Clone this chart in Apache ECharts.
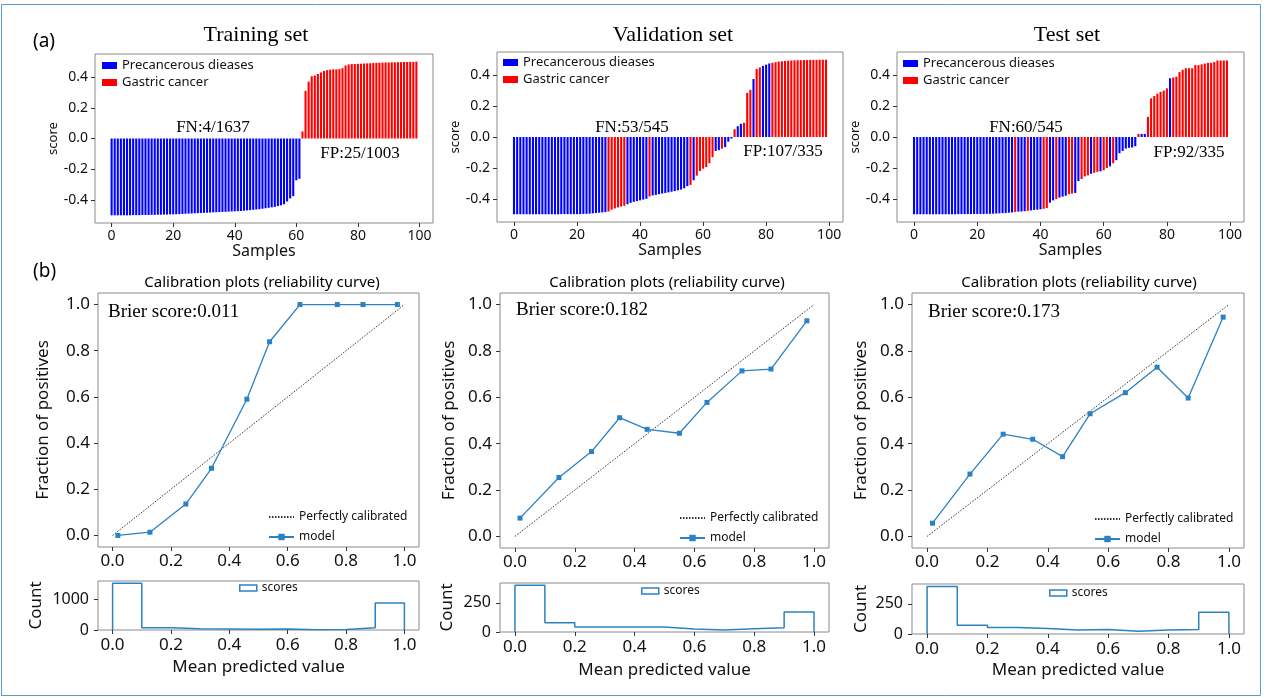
<!DOCTYPE html>
<html>
<head>
<meta charset="utf-8">
<title>Gastric cancer scores and calibration</title>
<script src="https://cdn.jsdelivr.net/npm/echarts@6/dist/echarts.min.js"></script>
<style>
  html, body { margin: 0; padding: 0; background: #fff; }
  #main { width: 1264px; height: 698px; }
</style>
</head>
<body>
<div id="main"></div>
<script>
// ---- data ----
// (a) sorted scores of 100 sampled cases, class 0 = precancerous, 1 = gastric cancer
var trainScores = [
  -0.500, -0.500, -0.500, -0.500, -0.500, -0.500, -0.500, -0.499, -0.499, -0.499,
  -0.498, -0.498, -0.498, -0.497, -0.497, -0.496, -0.496, -0.495, -0.495, -0.494,
  -0.494, -0.493, -0.492, -0.491, -0.490, -0.489, -0.488, -0.487, -0.486, -0.485,
  -0.484, -0.483, -0.482, -0.481, -0.480, -0.479, -0.478, -0.477, -0.476, -0.475,
  -0.474, -0.473, -0.472, -0.470, -0.468, -0.466, -0.464, -0.462, -0.460, -0.457,
  -0.454, -0.451, -0.448, -0.445, -0.440, -0.435, -0.428, -0.410, -0.390, -0.375,
  -0.272, -0.262, 0.046, 0.310, 0.370, 0.405, 0.410, 0.420, 0.430, 0.440,
  0.445, 0.448, 0.450, 0.450, 0.452, 0.458, 0.475, 0.482, 0.484, 0.485,
  0.486, 0.487, 0.488, 0.489, 0.490, 0.491, 0.492, 0.493, 0.494, 0.495,
  0.495, 0.496, 0.496, 0.497, 0.497, 0.498, 0.498, 0.499, 0.499, 0.500
];
var trainClass = [
  0, 0, 0, 0, 0, 0, 0, 0, 0, 0, 0, 0, 0, 0, 0, 0, 0, 0, 0, 0,
  0, 0, 0, 0, 0, 0, 0, 0, 0, 0, 0, 0, 0, 0, 0, 0, 0, 0, 0, 0,
  0, 0, 0, 0, 0, 0, 0, 0, 0, 0, 0, 0, 0, 0, 0, 0, 0, 0, 0, 0,
  0, 0, 1, 1, 1, 1, 1, 1, 1, 1, 1, 1, 1, 1, 1, 1, 1, 1, 1, 1,
  1, 1, 1, 1, 1, 1, 1, 1, 1, 1, 1, 1, 1, 1, 1, 1, 1, 1, 1, 1
];
var validScores = [
  -0.500, -0.500, -0.500, -0.500, -0.500, -0.500, -0.500, -0.500, -0.500, -0.500,
  -0.500, -0.500, -0.500, -0.500, -0.500, -0.499, -0.499, -0.499, -0.499, -0.499,
  -0.499, -0.499, -0.498, -0.497, -0.496, -0.494, -0.492, -0.490, -0.488, -0.486,
  -0.482, -0.470, -0.462, -0.456, -0.450, -0.445, -0.435, -0.426, -0.420, -0.415,
  -0.410, -0.405, -0.400, -0.385, -0.378, -0.375, -0.370, -0.366, -0.362, -0.358,
  -0.354, -0.350, -0.345, -0.340, -0.332, -0.318, -0.310, -0.280, -0.250, -0.220,
  -0.205, -0.195, -0.170, -0.130, -0.090, -0.085, -0.075, -0.065, -0.030, -0.010,
  0.050, 0.070, 0.085, 0.092, 0.285, 0.305, 0.375, 0.440, 0.450, 0.460,
  0.468, 0.476, 0.480, 0.484, 0.488, 0.490, 0.492, 0.494, 0.495, 0.496,
  0.497, 0.497, 0.498, 0.498, 0.499, 0.499, 0.499, 0.500, 0.500, 0.500
];
var validClass = [
  0, 0, 0, 0, 0, 0, 0, 0, 0, 0, 0, 0, 0, 0, 0, 0, 0, 0, 0, 0,
  0, 0, 0, 0, 0, 0, 0, 0, 0, 0, 1, 1, 1, 1, 1, 1, 0, 0, 0, 0,
  0, 0, 0, 1, 0, 0, 0, 0, 0, 0, 0, 0, 0, 0, 0, 0, 1, 0, 1, 1,
  1, 1, 1, 1, 0, 0, 1, 0, 0, 0, 1, 0, 0, 1, 1, 1, 0, 1, 1, 0,
  0, 0, 1, 1, 1, 1, 1, 1, 1, 1, 1, 1, 1, 1, 1, 1, 1, 1, 1, 1
];
var testScores = [
  -0.500, -0.500, -0.500, -0.500, -0.500, -0.500, -0.500, -0.500, -0.500, -0.500,
  -0.500, -0.500, -0.500, -0.500, -0.499, -0.499, -0.499, -0.499, -0.499, -0.498,
  -0.498, -0.498, -0.498, -0.497, -0.497, -0.496, -0.495, -0.494, -0.493, -0.492,
  -0.490, -0.488, -0.485, -0.483, -0.482, -0.480, -0.478, -0.475, -0.472, -0.470,
  -0.468, -0.465, -0.460, -0.425, -0.410, -0.402, -0.392, -0.386, -0.380, -0.370,
  -0.366, -0.362, -0.285, -0.272, -0.255, -0.248, -0.238, -0.232, -0.226, -0.222,
  -0.215, -0.200, -0.190, -0.170, -0.150, -0.105, -0.090, -0.075, -0.070, -0.068,
  -0.060, 0.020, 0.020, 0.020, 0.130, 0.250, 0.265, 0.280, 0.292, 0.300,
  0.315, 0.380, 0.385, 0.390, 0.420, 0.435, 0.445, 0.445, 0.445, 0.465,
  0.465, 0.470, 0.475, 0.480, 0.480, 0.485, 0.495, 0.495, 0.495, 0.495
];
var testClass = [
  0, 0, 0, 0, 0, 0, 0, 0, 0, 0, 0, 0, 0, 0, 0, 0, 0, 0, 0, 0,
  0, 0, 0, 0, 0, 0, 0, 0, 0, 0, 0, 0, 1, 0, 0, 0, 1, 0, 0, 0,
  0, 1, 1, 0, 0, 1, 0, 0, 0, 1, 1, 0, 0, 1, 1, 1, 0, 1, 1, 0,
  1, 1, 0, 1, 0, 0, 0, 0, 0, 0, 0, 1, 0, 0, 1, 1, 1, 1, 1, 1,
  1, 0, 1, 1, 1, 1, 1, 1, 1, 1, 1, 1, 1, 1, 1, 1, 1, 1, 1, 1
];

// (b) calibration curves: mean predicted value / fraction of positives
var trainCalX = [0.018, 0.128, 0.251, 0.339, 0.460, 0.538, 0.642, 0.770, 0.858, 0.976];
var trainCalY = [0.000, 0.014, 0.136, 0.291, 0.590, 0.839, 1.000, 1.000, 1.000, 1.000];
var validCalX = [0.017, 0.147, 0.256, 0.350, 0.442, 0.550, 0.642, 0.759, 0.856, 0.976];
var validCalY = [0.079, 0.254, 0.366, 0.512, 0.462, 0.445, 0.578, 0.714, 0.722, 0.930];
var testCalX = [0.018, 0.142, 0.252, 0.350, 0.449, 0.540, 0.657, 0.762, 0.865, 0.981];
var testCalY = [0.057, 0.269, 0.441, 0.419, 0.344, 0.529, 0.620, 0.730, 0.597, 0.946];

// histogram of predicted scores (10 bins)
var binEdges = [0, 0.1, 0.2, 0.3, 0.4, 0.5, 0.6, 0.7, 0.8, 0.9, 1.0];
var trainHist = [1540, 72, 42, 32, 22, 30, 11, 20, 72, 890];
var validHist = [400, 80, 42, 42, 42, 25, 17, 28, 36, 172];
var testHist = [394, 73, 54, 46, 33, 38, 22, 33, 38, 179];

// tick values
var sampleTicks = [0, 20, 40, 60, 80, 100];
var scoreTicks = [-0.4, -0.2, 0, 0.2, 0.4];
var probTicks = [0, 0.2, 0.4, 0.6, 0.8, 1.0];
var trainCountTicks = [0, 1000];
var otherCountTicks = [0, 250];

// ---- chart ----
var SANS = '"Noto Sans", "DejaVu Sans", sans-serif';
var SERIF = '"Liberation Serif", "DejaVu Serif", serif';
var BLUE = '#0000ff', RED = '#ff0000', LINE = '#2a82c4';

var chart = echarts.init(document.getElementById('main'), null, { renderer: 'canvas' });

function fmt1(v) { return (+v).toFixed(1); }
function fmt0(v) { return String(Math.round(v)); }

var grids = [
  { left: 95, top: 54, width: 338, height: 169 },
  { left: 497, top: 52, width: 346, height: 170 },
  { left: 897, top: 52, width: 347, height: 170 },
  { left: 98, top: 293, width: 321, height: 254 },
  { left: 500, top: 293, width: 329, height: 255 },
  { left: 912, top: 293, width: 332, height: 255 },
  { left: 98, top: 581, width: 321, height: 49 },
  { left: 500, top: 583, width: 329, height: 49 },
  { left: 912, top: 584, width: 332, height: 50 }
];
grids.forEach(function (g) {
  g.show = true;
  g.borderColor = '#8a8a8a';
  g.borderWidth = 1;
  g.backgroundColor = 'transparent';
  g.containLabel = false;
  g.outerBoundsMode = 'none';
});

function axis(gi, min, max, ticks, fmt, size, margin, name, nameGap, nameSize) {
  return {
    type: 'value', gridIndex: gi, min: min, max: max,
    axisLine: { show: false, onZero: false },
    splitLine: { show: false },
    axisTick: { show: true, length: 4, customValues: ticks, lineStyle: { color: '#333', width: 1 } },
    axisLabel: { customValues: ticks, formatter: fmt, fontSize: size, color: '#111', fontFamily: SANS, margin: margin },
    name: name, nameLocation: 'middle', nameGap: nameGap,
    nameTextStyle: { fontSize: nameSize, fontFamily: SANS, color: '#111' }
  };
}

var xAxes = [], yAxes = [], series = [], legends = [];

// row (a): score bars
var sets = [
  { scores: trainScores, cls: trainClass, yGap: 28, xGap: 18 },
  { scores: validScores, cls: validClass, yGap: 29, xGap: 17 },
  { scores: testScores, cls: testClass, yGap: 29, xGap: 19 }
];
var legendPos = [[102, 59], [503, 56], [903, 57]];
sets.forEach(function (s, k) {
  xAxes.push(axis(k, -5.4, 104.4, sampleTicks, fmt0, 14, 6, 'Samples', s.xGap, 16));
  yAxes.push(axis(k, -0.55, 0.55, scoreTicks, fmt1, 14, 7, 'score', s.yGap, 13));
  [[0, 'Precancerous dieases', BLUE], [1, 'Gastric cancer', RED]].forEach(function (c) {
    var data = [];
    s.scores.forEach(function (v, i) { if (s.cls[i] === c[0]) data.push([i, v]); });
    series.push({
      type: 'bar', name: c[1], xAxisIndex: k, yAxisIndex: k,
      data: data, barWidth: 2.1, barGap: '-100%',
      itemStyle: { color: c[2] }, silent: true
    });
  });
  legends.push({
    left: legendPos[k][0], top: legendPos[k][1], orient: 'vertical', padding: 0,
    itemWidth: 15, itemHeight: 7, itemGap: 4, selectedMode: false,
    textStyle: { fontSize: 13, fontFamily: SANS, color: '#111' },
    data: [{ name: 'Precancerous dieases', icon: 'rect' }, { name: 'Gastric cancer', icon: 'rect' }]
  });
});

// row (b): calibration curves
var cals = [[trainCalX, trainCalY, 46], [validCalX, validCalY, 42], [testCalX, testCalY, 42]];
var calLegendPos = [[268, 511], [679, 512], [1094, 513]];
cals.forEach(function (c, k) {
  var gi = 3 + k;
  xAxes.push(axis(gi, -0.05, 1.05, probTicks, fmt1, 17, 6, '', 0, 12));
  yAxes.push(axis(gi, -0.05, 1.05, probTicks, fmt1, 17, 8, 'Fraction of positives', c[2], 17));
  series.push({
    type: 'line', name: 'Perfectly calibrated', xAxisIndex: gi, yAxisIndex: gi,
    data: [[0, 0], [1, 1]], symbol: 'none', silent: true,
    lineStyle: { color: '#333', width: 1, type: [1.5, 1.5] }, itemStyle: { color: '#333' }
  });
  series.push({
    type: 'line', name: 'model', xAxisIndex: gi, yAxisIndex: gi,
    data: c[0].map(function (x, i) { return [x, c[1][i]]; }),
    symbol: 'rect', symbolSize: 5, silent: true,
    lineStyle: { color: LINE, width: 1.3 }, itemStyle: { color: LINE }
  });
  legends.push({
    left: calLegendPos[k][0], top: calLegendPos[k][1], orient: 'vertical', padding: 0,
    itemWidth: 25, itemHeight: 8, itemGap: 8, selectedMode: false,
    textStyle: { fontSize: 12, fontFamily: SANS, color: '#111' },
    data: [
      { name: 'Perfectly calibrated', itemStyle: { color: 'rgba(0,0,0,0)', opacity: 0 } },
      'model'
    ]
  });
});

// histogram of scores
function stepPoints(counts) {
  var pts = [[binEdges[0], 0]];
  for (var i = 0; i < counts.length; i++) {
    pts.push([binEdges[i], counts[i]]);
    pts.push([binEdges[i + 1], counts[i]]);
  }
  pts.push([binEdges[counts.length], 0]);
  return pts;
}
var hists = [[trainHist, trainCountTicks, 53, 29], [validHist, otherCountTicks, 44, 30], [testHist, otherCountTicks, 42, 28]];
var histLegendPos = [[239, 582], [641, 585], [1049, 587]];
hists.forEach(function (h, k) {
  var gi = 6 + k;
  xAxes.push(axis(gi, -0.05, 1.05, probTicks, fmt1, 17, 7, 'Mean predicted value', h[3], 17));
  yAxes.push(axis(gi, 0, Math.max.apply(null, h[0]) * 1.05, h[1], fmt0, 16, 9, 'Count', h[2], 17));
  series.push({
    type: 'line', name: 'scores', xAxisIndex: gi, yAxisIndex: gi,
    data: stepPoints(h[0]), symbol: 'none', silent: true,
    lineStyle: { color: LINE, width: 1.5 }, itemStyle: { color: LINE }
  });
  legends.push({
    left: histLegendPos[k][0], top: histLegendPos[k][1], padding: 0,
    itemWidth: 17, itemHeight: 6, selectedMode: false,
    textStyle: { fontSize: 12, fontFamily: SANS, color: '#111' },
    data: [{ name: 'scores', icon: 'rect', itemStyle: { color: '#fff', borderColor: LINE, borderWidth: 1.5 } }]
  });
});

function txt(s, x, y, font, align) {
  return {
    type: 'text', x: x, y: y, silent: true,
    style: { text: s, font: font, fill: '#000', textAlign: align || 'center', textVerticalAlign: 'middle' }
  };
}
var graphics = [
  { type: 'rect', silent: true, shape: { x: 1.5, y: 4.5, width: 1259, height: 691 },
    style: { fill: 'none', stroke: '#5b9bd5', lineWidth: 1 } },
  txt('(a)', 33, 42, '19px ' + SANS, 'left'),
  txt('(b)', 33, 272, '19px ' + SANS, 'left'),
  txt('Training set', 256, 35, '22px ' + SERIF),
  txt('Validation set', 673, 35, '22px ' + SERIF),
  txt('Test set', 1067, 35, '22px ' + SERIF),
  txt('FN:4/1637', 213, 128, '17px ' + SERIF),
  txt('FP:25/1003', 360, 154, '17px ' + SERIF),
  txt('FN:53/545', 632, 128, '17px ' + SERIF),
  txt('FP:107/335', 783, 152, '17px ' + SERIF),
  txt('FN:60/545', 1026, 128, '17px ' + SERIF),
  txt('FP:92/335', 1189, 153, '17px ' + SERIF),
  txt('Calibration plots (reliability curve)', 262, 283, '15px ' + SANS),
  txt('Calibration plots (reliability curve)', 667, 283, '15px ' + SANS),
  txt('Calibration plots (reliability curve)', 1079, 283, '15px ' + SANS),
  txt('Brier score:0.011', 108, 312, '19px ' + SERIF, 'left'),
  txt('Brier score:0.182', 516, 310, '19px ' + SERIF, 'left'),
  txt('Brier score:0.173', 928, 312, '19px ' + SERIF, 'left')
];

chart.setOption({
  backgroundColor: '#fff',
  animation: false,
  tooltip: { show: false },
  grid: grids,
  xAxis: xAxes,
  yAxis: yAxes,
  legend: legends,
  series: series,
  graphic: graphics
});
</script>
</body>
</html>
